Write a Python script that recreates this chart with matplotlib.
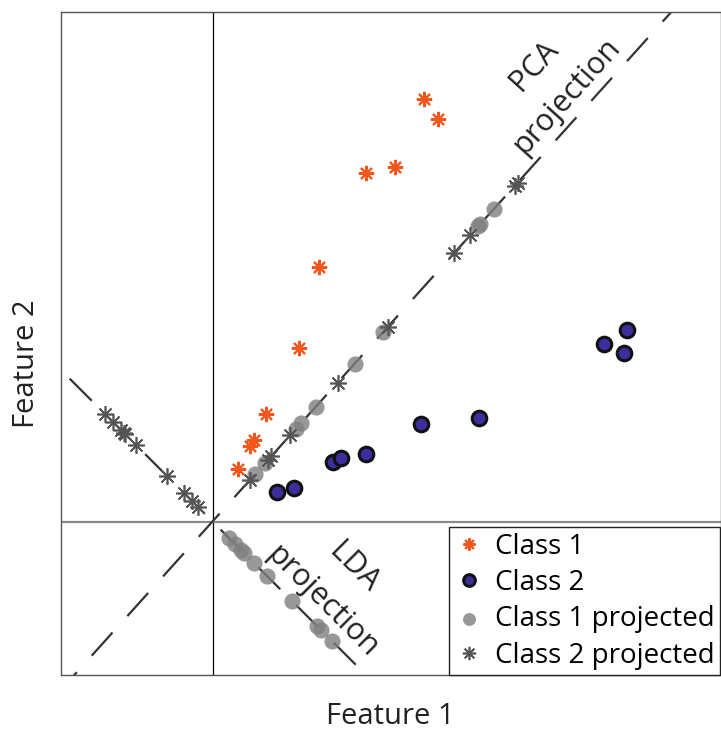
import numpy as np
import matplotlib.pyplot as plt

plt.rcParams['font.family'] = ['Open Sans', 'DejaVu Sans']

# raw feature values
class1_x = [4.23, 4.50, 3.06, 3.65, 2.13, 1.72, 1.06, 0.82, 0.74, 0.51]
class1_y = [8.45, 8.06, 6.97, 7.09, 5.10, 3.48, 2.16, 1.63, 1.52, 1.06]
class2_x = [1.28, 1.62, 2.40, 2.56, 3.06, 4.17, 5.32, 7.82, 8.29, 8.22]
class2_y = [0.60, 0.68, 1.19, 1.28, 1.36, 1.96, 2.08, 3.56, 3.83, 3.38]

# positions along each projection axis
pca_angle = 48.0
lda_angle = -45.0
class1_on_pca = [1.28, 1.58, 2.50, 2.64, 3.08, 4.25, 5.11, 7.95, 8.01, 8.40]
class2_on_pca = [1.13, 1.65, 1.76, 2.32, 3.74, 5.24, 7.23, 7.70, 9.04, 9.12]
class1_on_lda = [0.47, 0.63, 0.80, 0.90, 1.18, 1.55, 2.25, 2.95, 3.08, 3.37]
class2_on_lda = [-3.05, -2.81, -2.60, -2.50, -2.48, -2.16, -1.29, -0.82, -0.57, -0.40]


def along(t, angle):
    t = np.asarray(t)
    a = np.deg2rad(angle)
    return t * np.cos(a), t * np.sin(a)


orange = '#f4561c'
blue = '#3a2f9c'
star = (8, 2, 0)

fig = plt.figure(figsize=(7.21, 7.29), dpi=100)
ax = fig.add_axes([61 / 721, 54 / 729, 660 / 721, 663 / 729])
ax.set_xlim(-3.03, 10.17)
ax.set_ylim(-3.07, 10.19)

# origin lines
ax.axvline(0, color='black', lw=0.9, zorder=1)
ax.axhline(0, color='#8a8a8a', lw=1.6, zorder=1)

# projection directions
for ang in (pca_angle, lda_angle):
    lx, ly = along([-20, 20], ang)
    ax.plot(lx, ly, color='#333333', lw=1.6, linestyle=(3, (14, 10)), zorder=2)

# projected points
px, py = along(class1_on_pca, pca_angle)
qx, qy = along(class1_on_lda, lda_angle)
ax.scatter(np.r_[px, qx], np.r_[py, qy], s=135, color='#7f7f7f', alpha=0.8,
           linewidths=0, zorder=3, label='Class 1 projected')
px, py = along(class2_on_pca, pca_angle)
qx, qy = along(class2_on_lda, lda_angle)
ax.plot(np.r_[px, qx], np.r_[py, qy], ls='none', marker=star, ms=12,
        mec='#555555', mew=1.2, zorder=4, label='Class 2 projected')

# original points
ax.plot(class1_x, class1_y, ls='none', marker=star, ms=11, mec=orange,
        mew=1.5, zorder=5, label='Class 1')
ax.plot(class2_x, class2_y, ls='none', marker='o', ms=10.5, mfc=blue,
        mec='#111111', mew=2.2, zorder=5, label='Class 2')

for s in ax.spines.values():
    s.set_color('#555555')
    s.set_linewidth(1.0)
ax.set_xticks([])
ax.set_yticks([])

ax.text(6.43, 9.11, 'PCA', rotation=48, fontsize=22, color='#222222',
        ha='center', va='center', rotation_mode='anchor')
ax.text(7.09, 8.51, 'projection', rotation=48, fontsize=22, color='#222222',
        ha='center', va='center', rotation_mode='anchor')
ax.text(2.83, -0.93, 'LDA', rotation=-45, fontsize=22, color='#222222',
        ha='center', va='center', rotation_mode='anchor')
ax.text(2.19, -1.61, 'projection', rotation=-45, fontsize=22, color='#222222',
        ha='center', va='center', rotation_mode='anchor')

h, l = ax.get_legend_handles_labels()
order = ['Class 1', 'Class 2', 'Class 1 projected', 'Class 2 projected']
hm = dict(zip(l, h))
leg = ax.legend([hm[k] for k in order], order, loc='upper left',
                bbox_to_anchor=(0.588, 0.223), borderaxespad=0, fontsize=20,
                fancybox=False, framealpha=1, edgecolor='#222222',
                handlelength=1.0, handletextpad=0.45, labelspacing=0.30,
                borderpad=0.2, markerscale=0.8)
leg.get_frame().set_linewidth(1.0)

fig.text(390 / 721, 1 - 716 / 729, 'Feature 1', fontsize=21, ha='center',
         va='center', color='#222222')
fig.text(27 / 721, 1 - 364 / 729, 'Feature 2', fontsize=21, ha='center',
         va='center', rotation=90, color='#222222')

fig.savefig('out.png', dpi=100)
